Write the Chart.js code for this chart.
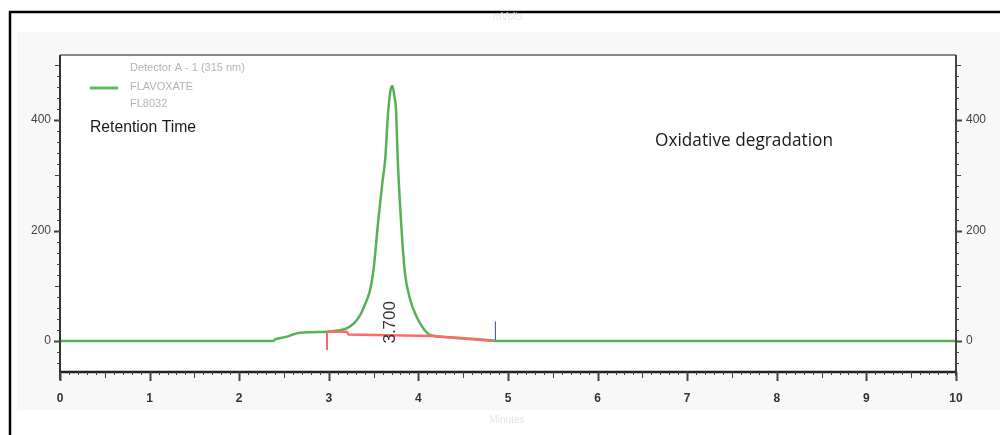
<!DOCTYPE html>
<html>
<head>
<meta charset="utf-8">
<script src="https://cdn.jsdelivr.net/npm/chart.js@4.4.0/dist/chart.umd.min.js"></script>
<style>
  html, body { margin: 0; padding: 0; background: #fff; }
  #wrap { width: 1000px; height: 435px; position: relative; }
</style>
</head>
<body>
<div id="wrap"><canvas id="chart" width="1000" height="435"></canvas></div>
<script>
// chromatogram trace (minutes, mVolts)
const times  = [0, 2.38, 2.40, 2.45, 2.53, 2.60, 2.68, 2.80, 2.98, 3.10, 3.20, 3.28, 3.35, 3.40, 3.46, 3.50, 3.55, 3.60, 3.63, 3.66, 3.69, 3.71, 3.73, 3.75, 3.77, 3.81, 3.85, 3.91, 3.98, 4.05, 4.13, 4.35, 4.60, 4.83, 4.88, 10];
const signal = [0, 0,    3,    5,    8,    12,   15,   16,   17,   19,   23,   32,   47,   65,   92,   130,  215,  290,  330,  410,  455,  462,  445,  418,  327,  207,  123,  74,   44,   24,   11,   7,    4,    1,    0,    0];

// integration baseline + event marks
const baseTimes  = [2.98, 3.20, 3.22, 4.15, 4.83];
const baseValues = [17,   17,   12,   9,    0];
const startMark = [2.98, 17, -16];   // time, top, bottom
const endMark   = [4.86, 35, 2];

const xTicks = [0, 1, 2, 3, 4, 5, 6, 7, 8, 9, 10];
const yTicks = [0, 200, 400];
const peakLabel = '3.700';
const peakTime = 3.685;

const pts = (xs, ys) => xs.map((x, i) => ({ x: x, y: ys[i] }));

const frame = {
  id: 'frame',
  beforeDraw(chart) {
    const c = chart.ctx, a = chart.chartArea;
    c.save();
    c.fillStyle = '#fff';
    c.fillRect(0, 0, 1000, 435);
    c.fillStyle = '#f8f8f8';
    c.fillRect(17, 32, 983, 378);
    c.fillStyle = '#fff';
    c.fillRect(a.left, a.top, a.right - a.left, a.bottom - a.top);
    // outer black border
    c.strokeStyle = '#000';
    c.lineWidth = 2.5;
    c.beginPath();
    c.moveTo(10, 435); c.lineTo(10, 12); c.lineTo(1000, 12);
    c.stroke();
    // faint axis titles
    c.fillStyle = '#e6e6e6';
    c.font = '10px "Liberation Sans"';
    c.textAlign = 'center';
    c.textBaseline = 'middle';
    c.fillText('mVolts', 508, 17);
    c.fillText('Minutes', 507, 420);
    c.restore();
  },
  afterDraw(chart) {
    const c = chart.ctx, a = chart.chartArea;
    const xs = chart.scales.x, ys = chart.scales.y;
    c.save();
    // frame lines
    c.strokeStyle = '#888';
    c.lineWidth = 2;
    c.beginPath(); c.moveTo(a.left, a.top); c.lineTo(a.right, a.top); c.stroke();
    c.strokeStyle = '#444';
    c.beginPath(); c.moveTo(a.right, a.top); c.lineTo(a.right, a.bottom + 4); c.stroke();
    c.strokeStyle = '#333';
    c.beginPath(); c.moveTo(a.left, a.top); c.lineTo(a.left, a.bottom + 8); c.stroke();
    c.strokeStyle = '#222';
    c.lineWidth = 2.5;
    c.beginPath(); c.moveTo(a.left, a.bottom); c.lineTo(a.right, a.bottom); c.stroke();

    // x tick marks every 0.1 min
    c.strokeStyle = '#444';
    for (let i = 0; i <= 100; i++) {
      const px = Math.round(xs.getPixelForValue(i / 10)) + 0.5;
      const len = i % 10 === 0 ? 9 : (i % 5 === 0 ? 6 : 3);
      c.lineWidth = i % 10 === 0 ? 2 : 1;
      c.beginPath(); c.moveTo(px, a.bottom); c.lineTo(px, a.bottom + len); c.stroke();
    }
    // y tick marks every 20, both sides
    for (let v = -40; v <= 500; v += 20) {
      const py = Math.round(ys.getPixelForValue(v)) + 0.5;
      const len = v % 200 === 0 ? 6 : (v % 100 === 0 ? 5 : 3);
      c.lineWidth = v % 200 === 0 ? 2 : 1;
      c.beginPath(); c.moveTo(a.left, py); c.lineTo(a.left - len, py); c.stroke();
      c.beginPath(); c.moveTo(a.right, py); c.lineTo(a.right + len, py); c.stroke();
    }

    // legend block
    c.strokeStyle = '#5cb85c';
    c.lineWidth = 3;
    c.beginPath(); c.moveTo(90, 88); c.lineTo(118, 88); c.stroke();
    c.fillStyle = '#b4b4b4';
    c.font = '11px "Liberation Sans"';
    c.textAlign = 'left';
    c.textBaseline = 'middle';
    c.fillText('Detector A - 1 (315 nm)', 130, 68, 125);
    c.fillText('FLAVOXATE', 130, 87, 70);
    c.fillText('FL8032', 130, 104, 41);

    c.fillStyle = '#1a1a1a';
    c.font = '16px "Liberation Sans"';
    c.fillText('Retention Time', 90, 128, 106);
    c.font = '19px "Open Sans"';
    c.fillText('Oxidative degradation', 655, 141, 178);

    // peak label, rotated
    c.translate(xs.getPixelForValue(peakTime), ys.getPixelForValue(34));
    c.rotate(-Math.PI / 2);
    c.textAlign = 'center';
    c.fillStyle = '#333';
    c.font = '17px "Liberation Sans"';
    c.fillText(peakLabel, 0, 0);
    c.restore();
  }
};

new Chart(document.getElementById('chart'), {
  type: 'line',
  data: {
    datasets: [
      { data: pts(baseTimes, baseValues), borderColor: '#ff6a6a', borderWidth: 2.5, pointRadius: 0, tension: 0, order: 1 },
      { data: [{ x: startMark[0], y: startMark[1] }, { x: startMark[0], y: startMark[2] }], borderColor: '#ff5050', borderWidth: 1, pointRadius: 0, order: 1 },
      { data: [{ x: endMark[0], y: endMark[1] }, { x: endMark[0], y: endMark[2] }], borderColor: '#5050ff', borderWidth: 1, pointRadius: 0, order: 1 },
      { data: pts(times, signal), borderColor: '#55b255', borderWidth: 2.5, pointRadius: 0, cubicInterpolationMode: 'monotone', order: 2 }
    ]
  },
  options: {
    responsive: false,
    animation: false,
    layout: { padding: { top: 55, left: 0, right: 0, bottom: 0 } },
    plugins: { legend: { display: false }, tooltip: { enabled: false } },
    scales: {
      x: {
        type: 'linear', min: 0, max: 10,
        afterBuildTicks: s => { s.ticks = xTicks.map(v => ({ value: v })); },
        afterFit: s => { s.height = 63; },
        grid: { display: false, drawTicks: false },
        border: { display: false },
        ticks: { padding: 19, color: '#333', font: { family: 'Liberation Sans', size: 12, weight: 'bold' } }
      },
      y: {
        type: 'linear', position: 'left', min: -56, max: 518,
        afterBuildTicks: s => { s.ticks = yTicks.map(v => ({ value: v })); },
        afterFit: s => { s.width = 60; },
        grid: { display: false, drawTicks: false },
        border: { display: false },
        ticks: { padding: 9, color: '#444', font: { family: 'Liberation Sans', size: 12 } }
      },
      y2: {
        type: 'linear', position: 'right', min: -56, max: 518,
        afterBuildTicks: s => { s.ticks = yTicks.map(v => ({ value: v })); },
        afterFit: s => { s.width = 44; },
        grid: { display: false, drawTicks: false },
        border: { display: false },
        ticks: { padding: 10, color: '#444', font: { family: 'Liberation Sans', size: 12 } }
      }
    }
  },
  plugins: [frame]
});
</script>
</body>
</html>
